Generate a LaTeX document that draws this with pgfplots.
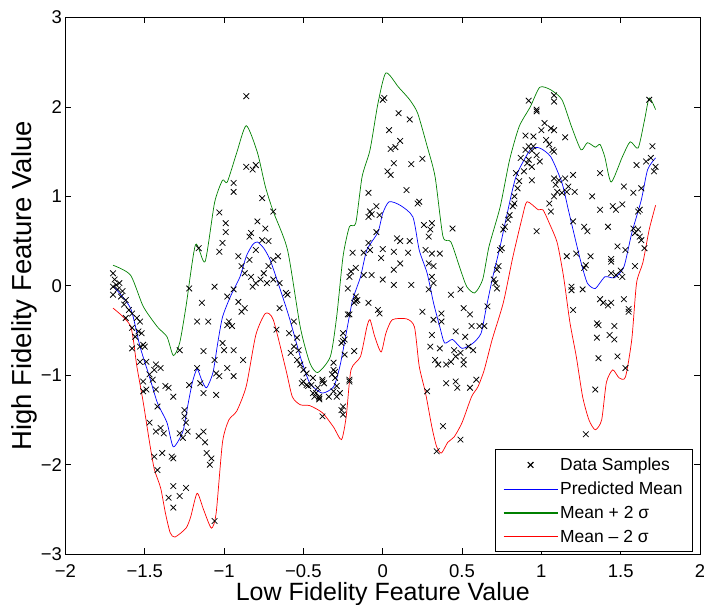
\documentclass[border=0pt]{standalone}
\usepackage{fontspec}
\setmainfont{Liberation Sans}
\usepackage{pgfplots}
\pgfplotsset{compat=1.18}

\pgfplotstableread{
x y
-1.70 0.14
-1.69 0.07
-1.70 -0.01
-1.68 0.01
-1.66 0.03
-1.67 -0.04
-1.64 -0.06
-1.70 -0.10
-1.65 -0.12
-1.62 -0.16
-1.63 -0.21
-1.60 -0.27
-1.58 -0.31
-1.62 -0.36
-1.55 -0.36
-1.53 -0.40
-1.58 -0.47
-1.54 -0.51
-1.52 -0.53
-1.56 -0.57
-1.51 -0.66
-1.53 -0.68
-1.58 -0.70
-1.50 -0.68
-1.53 -0.85
-1.49 -0.85
-1.43 -0.88
-1.40 -0.92
-1.44 -0.94
-1.47 -0.99
-1.51 -1.07
-1.45 -1.05
-1.49 -1.16
-1.51 -1.18
-1.43 -1.16
-1.37 -1.12
-1.35 -1.14
-1.32 -1.24
-1.42 -1.35
-1.47 -1.53
-1.43 -1.63
-1.40 -1.59
-1.38 -1.65
-1.44 -1.91
-1.39 -1.87
-1.33 -1.91
-1.32 -1.93
-1.42 -2.06
-1.32 -2.24
-1.24 -2.26
-1.35 -2.37
-1.28 -2.35
-1.32 -2.48
-1.06 -2.63
-1.25 -1.39
-1.25 -1.46
-1.24 -1.53
-1.28 -1.65
-1.26 -1.70
-1.23 -1.63
-1.16 -1.68
-1.13 -1.63
-1.12 -1.75
-1.11 -1.87
-1.08 -1.93
-1.09 -2.00
-1.22 -1.11
-1.15 -1.09
-1.13 -1.20
-1.17 -0.92
-1.05 -0.98
-1.05 -1.22
-1.06 -0.83
-1.00 -0.72
-0.94 -0.72
-1.01 -0.64
-1.03 -1.01
-0.98 -0.92
-0.94 -1.01
-0.88 -0.83
-1.13 -0.73
-1.17 -0.40
-1.10 -0.40
-1.14 -0.19
-1.22 -0.03
-1.06 -0.01
-1.28 -0.72
-0.98 -0.12
-0.94 -0.04
-0.87 -0.25
-0.89 -0.29
-0.91 -0.18
-0.97 -0.40
-0.98 -0.44
-0.95 -0.45
-0.80 0.03
-0.82 -0.01
-0.77 0.07
-0.73 0.03
-0.69 0.07
-0.65 0.03
-0.61 -0.08
-0.60 -0.10
-0.65 -0.25
-0.67 -0.49
-0.56 -0.40
-0.59 -0.53
-0.54 -0.58
-0.56 -0.68
-0.53 -0.72
-0.58 -0.75
-0.54 -0.83
-0.52 -0.88
-0.50 -0.94
-0.48 -0.98
-0.51 -1.09
-0.48 -1.11
-0.47 -1.12
-0.50 -1.07
-0.83 0.10
-0.87 0.14
-0.89 0.22
-0.75 0.14
-0.72 0.22
-0.69 0.29
-0.66 0.33
-0.91 0.33
-0.84 0.29
-1.03 0.38
-0.86 2.12
-0.86 1.33
-0.82 1.30
-0.80 1.35
-0.76 0.98
-0.94 1.15
-0.94 1.05
-1.03 0.82
-0.99 0.70
-0.99 0.60
-1.01 0.48
-1.16 0.42
-0.79 0.72
-0.83 0.59
-0.84 0.55
-0.74 0.64
-0.72 0.50
-0.76 0.51
-0.80 0.40
-0.69 0.83
0.00 2.08
0.01 2.10
0.10 1.93
0.17 1.86
0.04 1.74
0.11 1.62
0.05 1.53
0.08 1.55
0.07 1.37
0.18 1.36
0.25 1.42
0.03 1.28
0.05 1.24
0.15 1.07
0.22 0.92
0.23 0.94
-0.09 1.04
-0.04 0.89
-0.08 0.83
-0.07 0.80
-0.09 0.77
-0.02 0.79
-0.04 0.60
0.26 0.68
0.31 0.70
0.30 0.63
0.44 0.64
0.29 0.55
0.09 0.53
0.11 0.50
0.17 0.50
-0.09 0.48
-0.19 0.37
-0.12 0.37
0.00 0.41
0.07 0.38
0.16 0.37
0.27 0.40
0.31 0.36
0.36 0.36
-0.08 0.40
-0.20 0.16
-0.17 0.20
-0.21 0.10
-0.12 0.12
-0.07 0.12
0.00 0.07
0.07 0.01
0.07 0.18
0.11 0.25
-0.01 0.31
0.18 0.01
-0.22 -0.03
-0.17 -0.12
-0.16 -0.16
-0.18 -0.19
-0.21 -0.32
-0.25 -0.53
-0.25 -0.62
-0.24 -0.77
-0.18 -0.73
-0.09 -0.19
-0.03 -0.27
-0.02 -0.31
0.29 0.25
0.32 0.22
0.31 0.10
0.32 0.03
0.29 -0.04
0.25 -0.29
0.32 -0.38
0.37 -0.31
0.37 -0.40
0.31 -0.55
0.30 -0.68
0.36 -0.70
0.33 -0.83
0.35 -0.88
0.40 -0.88
0.43 -0.85
0.46 -0.79
0.46 -0.51
0.43 -0.10
0.49 -0.04
0.51 -0.25
0.55 -0.32
0.56 -0.45
0.52 -0.57
0.54 -0.68
0.57 -0.72
0.49 -0.75
0.45 -0.72
0.51 -0.83
0.51 -0.88
0.61 -0.45
0.64 -0.45
0.40 -1.09
0.46 -1.07
0.47 -1.14
0.55 -1.14
0.59 -1.05
0.28 -1.18
0.38 -1.57
0.34 -1.85
0.49 -1.72
-0.31 -0.94
-0.32 -0.99
-0.38 -1.05
-0.44 -1.03
-0.41 -1.14
-0.43 -1.24
-0.40 -1.26
-0.37 -1.09
-0.34 -1.24
-0.31 -1.18
-0.29 -1.12
-0.27 -1.20
-0.25 -1.35
-0.25 -1.44
-0.21 -1.05
-0.30 -0.96
-0.31 -0.86
-0.26 -0.64
-0.38 -1.46
-0.45 -1.11
-0.42 -1.20
-0.44 -1.20
-0.40 -1.24
-0.40 -1.27
-0.38 -1.07
-0.30 -1.03
-0.29 -1.24
-0.26 -1.39
-0.21 -1.07
-0.24 -0.60
-0.22 -0.32
-0.17 -0.17
0.74 0.40
0.73 0.22
0.72 0.18
0.70 0.07
0.71 0.03
0.72 -0.03
0.66 -0.23
0.92 2.07
0.97 1.97
0.97 1.95
1.08 2.13
1.08 2.06
1.02 1.82
1.06 1.76
1.00 1.74
1.08 1.74
0.90 1.68
0.95 1.67
1.15 1.66
1.03 1.63
1.05 1.58
0.92 1.56
0.95 1.56
0.90 1.52
0.94 1.51
0.97 1.46
1.07 1.52
1.08 1.50
0.87 1.43
0.92 1.41
0.99 1.39
0.94 1.33
0.91 1.37
0.84 1.26
0.89 1.28
0.94 1.18
0.86 1.17
0.85 1.09
0.83 1.00
0.82 0.89
0.83 0.92
0.80 0.79
0.79 0.74
0.77 0.66
0.76 0.63
0.75 0.42
0.97 0.61
1.08 1.20
1.11 1.18
1.09 1.13
1.15 1.20
1.20 1.24
1.17 1.11
1.21 1.05
1.16 1.05
1.08 1.00
1.05 0.92
1.06 0.83
1.10 1.05
1.13 1.04
1.37 1.26
1.32 1.00
1.37 0.85
1.45 0.89
1.47 0.85
1.51 0.91
1.52 1.11
1.58 1.04
1.63 1.09
1.60 1.35
1.66 1.39
1.70 1.56
1.69 1.43
1.72 1.33
1.71 1.28
1.68 2.08
1.62 0.85
1.61 0.83
1.20 0.72
1.27 0.66
1.29 0.61
1.42 0.66
1.58 0.64
1.61 0.63
1.62 0.55
1.59 0.59
1.63 0.51
1.48 0.44
1.65 0.42
1.53 0.40
1.16 0.33
1.22 0.36
1.27 0.20
1.31 0.33
1.28 0.23
1.44 0.30
1.44 0.27
1.59 0.22
1.44 0.14
1.47 0.12
1.50 0.17
1.51 0.10
1.19 -0.01
1.19 -0.05
1.26 -0.04
1.37 -0.15
1.39 -0.19
1.42 -0.22
1.44 -0.19
1.52 -0.15
1.55 -0.26
1.20 -0.27
1.46 -0.45
1.43 -0.55
1.46 -0.60
1.35 -0.42
1.36 -0.44
1.35 -0.58
1.36 -0.81
1.48 -0.79
1.53 -0.92
1.34 -1.16
1.28 -1.66
1.55 -0.29
}\samples

\pgfplotstableread{
x y
-1.70 0.00
-1.59 -0.25
-1.53 -0.68
-1.47 -1.02
-1.42 -1.31
-1.36 -1.53
-1.32 -1.80
-1.26 -1.63
-1.23 -1.35
-1.20 -1.08
-1.17 -0.93
-1.14 -1.06
-1.11 -1.14
-1.07 -0.97
-1.04 -0.64
-1.01 -0.35
-0.96 -0.12
-0.90 0.10
-0.86 0.33
-0.82 0.46
-0.79 0.49
-0.75 0.42
-0.71 0.29
-0.65 -0.02
-0.59 -0.35
-0.52 -0.79
-0.47 -1.05
-0.44 -1.13
-0.38 -1.20
-0.31 -1.13
-0.27 -0.90
-0.23 -0.53
-0.19 -0.16
-0.14 0.10
-0.10 0.40
-0.03 0.60
0.00 0.81
0.04 0.94
0.11 0.90
0.19 0.77
0.23 0.40
0.28 0.14
0.32 -0.19
0.36 -0.46
0.39 -0.64
0.44 -0.60
0.50 -0.70
0.57 -0.64
0.62 -0.53
0.65 -0.27
0.69 0.07
0.74 0.44
0.78 0.77
0.84 1.22
0.93 1.52
0.99 1.54
1.06 1.44
1.13 1.15
1.17 0.85
1.21 0.55
1.25 0.26
1.29 0.03
1.34 -0.03
1.40 0.10
1.46 0.09
1.52 0.21
1.57 0.59
1.63 0.96
1.67 1.30
1.72 1.43
}\meancurve

\pgfplotstableread{
x y
-1.70 0.23
-1.59 0.12
-1.51 -0.23
-1.42 -0.46
-1.36 -0.57
-1.32 -0.78
-1.28 -0.64
-1.24 -0.23
-1.18 0.46
-1.12 0.27
-1.06 0.93
-1.01 1.18
-0.98 1.16
-0.92 1.49
-0.86 1.79
-0.79 1.49
-0.74 1.11
-0.69 0.83
-0.60 0.40
-0.52 -0.46
-0.46 -0.86
-0.41 -0.97
-0.33 -0.79
-0.29 -0.34
-0.25 0.33
-0.21 0.66
-0.17 0.70
-0.13 1.22
-0.08 1.52
-0.03 2.04
0.02 2.38
0.10 2.22
0.17 2.08
0.22 1.93
0.28 1.56
0.33 1.22
0.38 0.55
0.43 0.49
0.49 0.18
0.53 -0.01
0.58 -0.08
0.63 0.07
0.67 0.44
0.74 0.88
0.80 1.41
0.86 1.78
0.93 2.00
0.99 2.22
1.06 2.19
1.13 2.08
1.19 1.78
1.25 1.52
1.29 1.60
1.34 1.55
1.37 1.58
1.40 1.44
1.44 1.16
1.51 1.44
1.56 1.61
1.61 1.54
1.65 1.85
1.68 2.10
1.72 1.97
}\uppercurve

\pgfplotstableread{
x y
-1.70 -0.25
-1.59 -0.45
-1.55 -0.90
-1.51 -1.30
-1.47 -1.75
-1.44 -2.05
-1.40 -2.26
-1.37 -2.54
-1.34 -2.76
-1.31 -2.81
-1.24 -2.71
-1.21 -2.58
-1.17 -2.32
-1.13 -2.50
-1.08 -2.71
-1.05 -2.54
-1.01 -1.75
-0.97 -1.50
-0.92 -1.40
-0.86 -1.12
-0.80 -0.55
-0.74 -0.31
-0.69 -0.38
-0.61 -0.94
-0.57 -1.24
-0.52 -1.33
-0.46 -1.34
-0.38 -1.42
-0.31 -1.58
-0.26 -1.72
-0.23 -1.46
-0.20 -0.94
-0.14 -0.79
-0.10 -0.46
-0.08 -0.38
-0.05 -0.57
-0.01 -0.74
0.02 -0.53
0.06 -0.38
0.15 -0.37
0.20 -0.46
0.23 -0.90
0.27 -1.20
0.31 -1.58
0.34 -1.80
0.37 -1.87
0.41 -1.75
0.45 -1.69
0.50 -1.53
0.56 -1.24
0.60 -1.13
0.64 -0.94
0.69 -0.60
0.76 -0.19
0.82 0.32
0.88 0.77
0.91 0.94
0.98 0.85
1.01 0.85
1.05 0.70
1.10 0.48
1.14 0.10
1.18 -0.41
1.22 -0.79
1.26 -1.24
1.30 -1.50
1.34 -1.61
1.38 -1.50
1.41 -1.08
1.45 -0.94
1.49 -1.03
1.53 -1.02
1.57 -0.60
1.60 0.03
1.64 0.26
1.68 0.63
1.72 0.90
}\lowercurve

\definecolor{mgreen}{rgb}{0,0.5,0}

\begin{document}
\begin{tikzpicture}
\begin{axis}[
  scale only axis,
  width=635pt, height=537pt,
  xmin=-2, xmax=2, ymin=-3, ymax=3,
  xtick={-2,-1.5,-1,-0.5,0,0.5,1,1.5,2},
  xticklabels={−2,−1.5,−1,−0.5,0,0.5,1,1.5,2},
  ytick={-3,-2,-1,0,1,2,3},
  yticklabels={−3,−2,−1,0,1,2,3},
  tick label style={font=\fontsize{18.5}{21}\selectfont},
  xticklabel style={yshift=-7pt},
  major tick length=6pt,
  tick style={black, line width=0.6pt},
  axis line style={line width=0.8pt},
  xlabel={Low Fidelity Feature Value},
  ylabel={High Fidelity Feature Value},
  xlabel style={font=\fontsize{25}{28}\selectfont, yshift=2pt},
  ylabel style={font=\fontsize{27.5}{30}\selectfont, yshift=-3pt},
  legend cell align=left,
  legend style={at={(rel axis cs:0.989,0.004)}, anchor=south east,
    draw=black, line width=0.8pt, font=\fontsize{17.5}{20}\selectfont,
    row sep=6pt, inner xsep=8pt, inner ysep=6pt},
  legend image code/.code={\draw[mark repeat=2, mark phase=2, #1, line width=1.1pt]
    plot coordinates {(0pt,0pt) (27pt,0pt) (54pt,0pt)};},
]
\addplot[only marks, mark=x, mark size=4pt, black, line width=0.75pt,
  legend image post style={line width=0.75pt}] table {\samples};
\addlegendentry{Data Samples}
\addplot[blue, line width=0.7pt, smooth, tension=0.4] table {\meancurve};
\addlegendentry{Predicted Mean}
\addplot[mgreen, line width=0.7pt, smooth, tension=0.4] table {\uppercurve};
\addlegendentry{Mean + 2 σ}
\addplot[red, line width=0.7pt, smooth, tension=0.4] table {\lowercurve};
\addlegendentry{Mean – 2 σ}
\end{axis}
\pgfresetboundingbox
\path (current axis.south west) ++(-65.5pt,-50.5pt) coordinate (bbA);
\path (current axis.north east) ++(4pt,17.5pt) coordinate (bbB);
\useasboundingbox (bbA) rectangle (bbB);
\end{tikzpicture}
\end{document}
